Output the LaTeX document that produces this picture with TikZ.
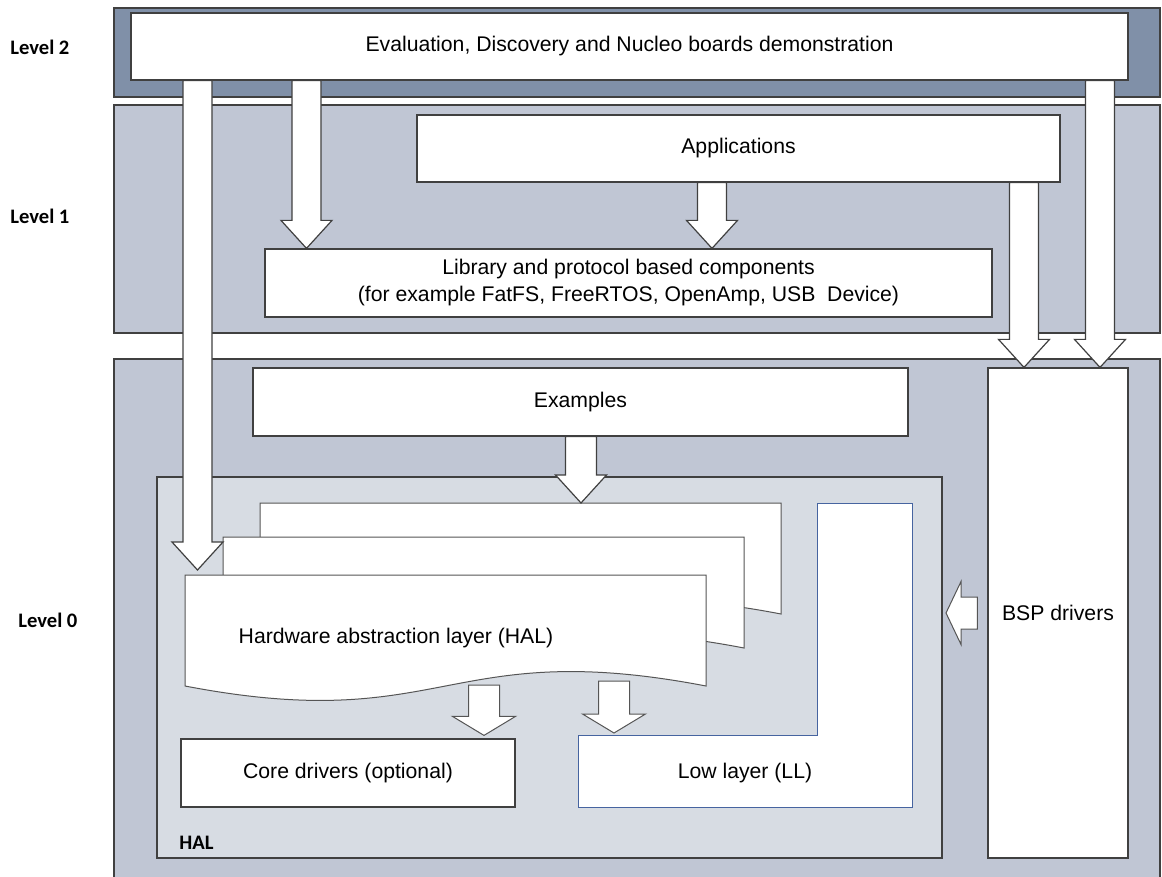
\documentclass[tikz,border=0pt]{standalone}
\usepackage{fontspec}
\setmainfont{Liberation Sans}
\newfontfamily\lvlfont{Carlito}
\usetikzlibrary{calc,fit}
\definecolor{bandtop}{RGB}{128,144,168}
\definecolor{bandmid}{RGB}{192,198,212}
\definecolor{halfill}{RGB}{215,220,227}
\definecolor{linegray}{RGB}{64,64,64}
\definecolor{pagegray}{RGB}{85,85,85}
\definecolor{llblue}{RGB}{70,100,160}
\tikzset{
  band/.style={draw=linegray, line width=0.8pt},
  box/.style={draw=linegray, fill=white, line width=0.6pt, inner sep=0pt, align=center,
    font=\fontsize{10.6}{13.5}\selectfont},
  txt/.style={inner sep=0pt, font=\fontsize{10.6}{13.5}\selectfont},
  lvl/.style={inner sep=0pt, anchor=west, font=\lvlfont\bfseries\fontsize{10.3}{12}\selectfont},
  page/.style={draw=pagegray, fill=white, line width=0.5pt},
  blkdown/.style n args={3}{draw=linegray, fill=white, line width=0.6pt,
    to path={let \p1=(\tikztostart), \p2=(\tikztotarget) in
      (\x1-#1,\y1) -- (\x1-#1,\y2+#3) -- (\x1-#2,\y2+#3) -- (\x2,\y2)
      -- (\x1+#2,\y2+#3) -- (\x1+#1,\y2+#3) -- (\x1+#1,\y1) -- cycle}},
  blkleft/.style n args={3}{draw=pagegray, fill=white, line width=0.5pt,
    to path={let \p1=(\tikztostart), \p2=(\tikztotarget) in
      (\x1,\y1-#1) -- (\x2+#3,\y1-#1) -- (\x2+#3,\y1-#2) -- (\x2,\y2)
      -- (\x2+#3,\y1+#2) -- (\x2+#3,\y1+#1) -- (\x1,\y1+#1) -- cycle}},
  bigarrow/.style={blkdown={7.25pt}{12.75pt}{14pt}},
  midarrow/.style={blkdown={7.75pt}{12.75pt}{14pt}},
  smallarrow/.style={blkdown={7.75pt}{15.75pt}{9.5pt}, draw=pagegray, line width=0.5pt},
}
\newcommand{\halpage}[2]{%
  \filldraw[page] (#1,#2) -- (#1+521,#2) -- (#1+521,#2+111)
    .. controls (#1+260.5,#2+61) and (#1+260.5,#2+161) .. (#1,#2+111) -- cycle;}
\begin{document}
\begin{tikzpicture}[x=0.5pt, y=-0.5pt]
	\useasboundingbox (0,0) rectangle (1162,877);
	\filldraw[band, fill=bandtop] (114,8) rectangle (1160,97);
	\filldraw[band, fill=bandmid] (114,105) rectangle (1160,333);
	\filldraw[band, fill=bandmid] (114,359) rectangle (1160,880);
	\node (lvl2) [lvl] at (10,47) {Level 2};
	\node (lvl1) [lvl] at (10,216) {Level 1};
	\node (lvl0) [lvl] at (18,620) {Level 0};
	\node (eval) [box, minimum width=498.5pt, minimum height=33.5pt] at (629.5,46.5) {Evaluation, Discovery and Nucleo boards demonstration};
	\node (apps) [box, minimum width=321.5pt, minimum height=33.5pt] at (738.5,148.5) {Applications};
	\node (lib) [box, minimum width=363.5pt, minimum height=34pt] at (628.5,283) {Library and protocol based components\\(for example FatFS, FreeRTOS, OpenAmp, USB\ \ Device)};
	\node (examples) [box, minimum width=327.5pt, minimum height=34pt] at (580.5,402) {Examples};
	\node (bsp) [box, minimum width=70pt, minimum height=245pt] at (1058,613) {BSP drivers};
	\node (halbox) [draw=linegray, fill=halfill, line width=0.7pt, inner sep=0pt, fit={(157,477) (942,858)}] {};
	\node (hallbl) [lvl] at (179,843) {HAL};
	\halpage{260}{503}
	\halpage{223}{537}
	\halpage{185}{575}
	\node (hal) [txt] at (396,638) {Hardware abstraction layer (HAL)};
	\node (core) [box, minimum width=167pt, minimum height=34pt] at (348,773) {Core drivers (optional)};
	\filldraw[fill=white, draw=llblue, line width=0.5pt] (817,503) -- (912,503) -- (912,807) -- (578,807) -- (578,735) -- (817,735) -- cycle;
	\node (ll) [txt] at (745,773) {Low layer (LL)};
	\coordinate (xA) at (197.5,0);
	\coordinate (xB) at (306.5,0);
	\coordinate (xC) at (712,0);
	\coordinate (xD) at (1024,0);
	\coordinate (xE) at (1100,0);
	\coordinate (xF) at (581,0);
	\coordinate (tipA) at (197.5,570);
	\coordinate (back) at (260,503);
	\coordinate (halG) at (484,685);
	\coordinate (halH) at (614,681);
	\coordinate (llcorner) at (578,733);
	\coordinate (tipI) at (946,613);
	\draw[bigarrow] (eval.south -| xA) to (tipA);
	\draw[bigarrow] (eval.south -| xB) to (lib.north -| xB);
	\draw[bigarrow] (apps.south -| xC) to (lib.north -| xC);
	\draw[bigarrow] (apps.south -| xD) to (bsp.north -| xD);
	\draw[bigarrow] (eval.south -| xE) to (bsp.north -| xE);
	\draw[midarrow] (examples.south -| xF) to (back -| xF);
	\draw[smallarrow] (halG) to ([yshift=1.5pt]core.north -| halG);
	\draw[smallarrow] (halH) to (llcorner -| halH);
	\draw[blkleft={8pt}{15.75pt}{7.5pt}] ([xshift=-5pt]bsp.west) to (tipI);
\end{tikzpicture}
\end{document}
